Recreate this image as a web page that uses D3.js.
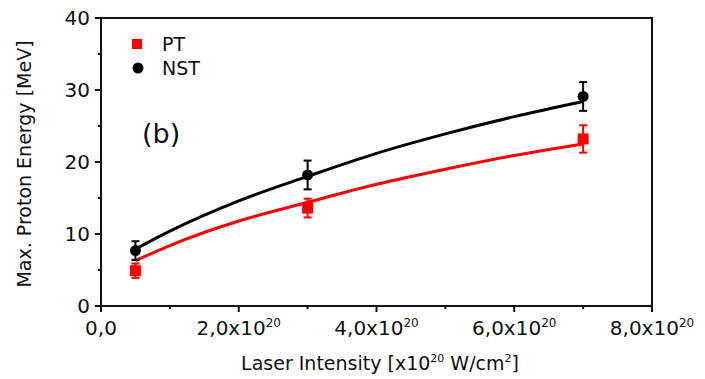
<!DOCTYPE html>
<html><head><meta charset="utf-8">
<script src="https://cdn.jsdelivr.net/npm/d3@7"></script>
<style>body{margin:0;background:#fff}text{font-family:"DejaVu Sans",sans-serif;fill:#111}</style>
</head><body><svg id="c" width="705" height="379"></svg>
<script>
// Data (intensity in units of 10^20 W/cm^2, energy in MeV)
const intensity = [0.5, 3, 7];
const ptEnergy  = [4.9, 13.6, 23.2];
const ptErr     = [1.0, 1.3, 1.9];
const nstEnergy = [7.7, 18.2, 29.1];
const nstErr    = [1.3, 2.0, 2.0];
// fitted curves
const fitX      = [0.5, 1, 2, 3, 4, 5, 6, 7];
const ptFit     = [6.3, 8.4, 11.8, 14.4, 16.9, 19.0, 20.9, 22.5];
const nstFit    = [7.9, 10.4, 14.6, 18.0, 21.2, 23.9, 26.3, 28.4];
const xTicks    = [0, 2, 4, 6, 8];
const xTickLabels = ["0,0", "2,0x10", "4,0x10", "6,0x10", "8,0x10"];
const yTicks    = [0, 10, 20, 30, 40];

const svg = d3.select("#c");
const L = 101, R = 652, T = 18, B = 306;
const x = d3.scaleLinear().domain([0, 8]).range([L, R]);
const y = d3.scaleLinear().domain([0, 40]).range([B, T]);

// frame
svg.append("rect").attr("x", L).attr("y", T).attr("width", R - L).attr("height", B - T)
  .attr("fill", "none").attr("stroke", "#111").attr("stroke-width", 2);

// y ticks
const yAx = svg.append("g");
yAx.selectAll("line.maj").data(yTicks).join("line")
  .attr("x1", L - 6).attr("x2", L).attr("y1", d => y(d)).attr("y2", d => y(d))
  .attr("stroke", "#111").attr("stroke-width", 2);
yAx.selectAll("line.min").data([5, 15, 25, 35]).join("line").attr("class", "min")
  .attr("x1", L - 3).attr("x2", L).attr("y1", d => y(d)).attr("y2", d => y(d))
  .attr("stroke", "#111").attr("stroke-width", 2);
yAx.selectAll("text").data(yTicks).join("text")
  .attr("x", L - 11).attr("y", d => y(d)).attr("dy", "0.36em")
  .attr("text-anchor", "end").attr("font-size", 20).text(d => d);

// x ticks
const xAx = svg.append("g");
xAx.selectAll("line.maj").data(xTicks).join("line")
  .attr("x1", d => x(d)).attr("x2", d => x(d)).attr("y1", B).attr("y2", B + 6)
  .attr("stroke", "#111").attr("stroke-width", 2);
xAx.selectAll("line.min").data([1, 3, 5, 7]).join("line").attr("class", "min")
  .attr("x1", d => x(d)).attr("x2", d => x(d)).attr("y1", B).attr("y2", B + 3)
  .attr("stroke", "#111").attr("stroke-width", 2);
xTicks.forEach((t, i) => {
  const tx = xAx.append("text").attr("x", x(t)).attr("y", 335)
    .attr("text-anchor", "middle").attr("font-size", 20);
  tx.append("tspan").text(xTickLabels[i]);
  if (i > 0) tx.append("tspan").attr("dy", -8).attr("font-size", 12).text("20");
});

// axis titles
svg.append("text").attr("transform", `translate(31,${(T + B) / 2 + 2}) rotate(-90)`)
  .attr("text-anchor", "middle").attr("font-size", 19).text("Max. Proton Energy [MeV]");
const xt = svg.append("text").attr("x", 380).attr("y", 370).attr("text-anchor", "middle").attr("font-size", 19);
xt.append("tspan").text("Laser Intensity [x10");
xt.append("tspan").attr("dy", -8).attr("font-size", 11).text("20");
xt.append("tspan").attr("dy", 8).text(" W/cm");
xt.append("tspan").attr("dy", -8).attr("font-size", 11).text("2");
xt.append("tspan").attr("dy", 8).text("]");

// curves
const line = d3.line().x(d => x(d[0])).y(d => y(d[1])).curve(d3.curveMonotoneX);
svg.append("path").datum(fitX.map((v, i) => [v, ptFit[i]])).attr("d", line)
  .attr("fill", "none").attr("stroke", "#ff0000").attr("stroke-width", 3);
svg.append("path").datum(fitX.map((v, i) => [v, nstFit[i]])).attr("d", line)
  .attr("fill", "none").attr("stroke", "#000").attr("stroke-width", 3);

function errBars(vals, errs, color) {
  const g = svg.append("g").attr("stroke", color).attr("stroke-width", 2);
  intensity.forEach((xv, i) => {
    const x0 = x(xv), y1 = y(vals[i] + errs[i]), y2 = y(vals[i] - errs[i]);
    g.append("line").attr("x1", x0).attr("x2", x0).attr("y1", y1).attr("y2", y2);
    g.append("line").attr("x1", x0 - 4).attr("x2", x0 + 4).attr("y1", y1).attr("y2", y1);
    g.append("line").attr("x1", x0 - 4).attr("x2", x0 + 4).attr("y1", y2).attr("y2", y2);
  });
}
errBars(ptEnergy, ptErr, "#ff0000");
errBars(nstEnergy, nstErr, "#000");

svg.append("g").selectAll("rect").data(intensity).join("rect")
  .attr("x", (d) => x(d) - 5.5).attr("y", (d, i) => y(ptEnergy[i]) - 5.5)
  .attr("width", 11).attr("height", 11).attr("fill", "#ff0000");
svg.append("g").selectAll("circle").data(intensity).join("circle")
  .attr("cx", d => x(d)).attr("cy", (d, i) => y(nstEnergy[i])).attr("r", 5.5).attr("fill", "#000");

// legend
svg.append("rect").attr("x", 132).attr("y", 39).attr("width", 10).attr("height", 10).attr("fill", "#ff0000");
svg.append("circle").attr("cx", 138).attr("cy", 68).attr("r", 5.5).attr("fill", "#000");
svg.append("text").attr("x", 162).attr("y", 44).attr("dy", "0.36em").attr("font-size", 19).text("PT");
svg.append("text").attr("x", 162).attr("y", 68).attr("dy", "0.36em").attr("font-size", 19).text("NST");
svg.append("text").attr("x", 142).attr("y", 133).attr("dy", "0.36em").attr("font-size", 27).text("(b)");
</script></body></html>
